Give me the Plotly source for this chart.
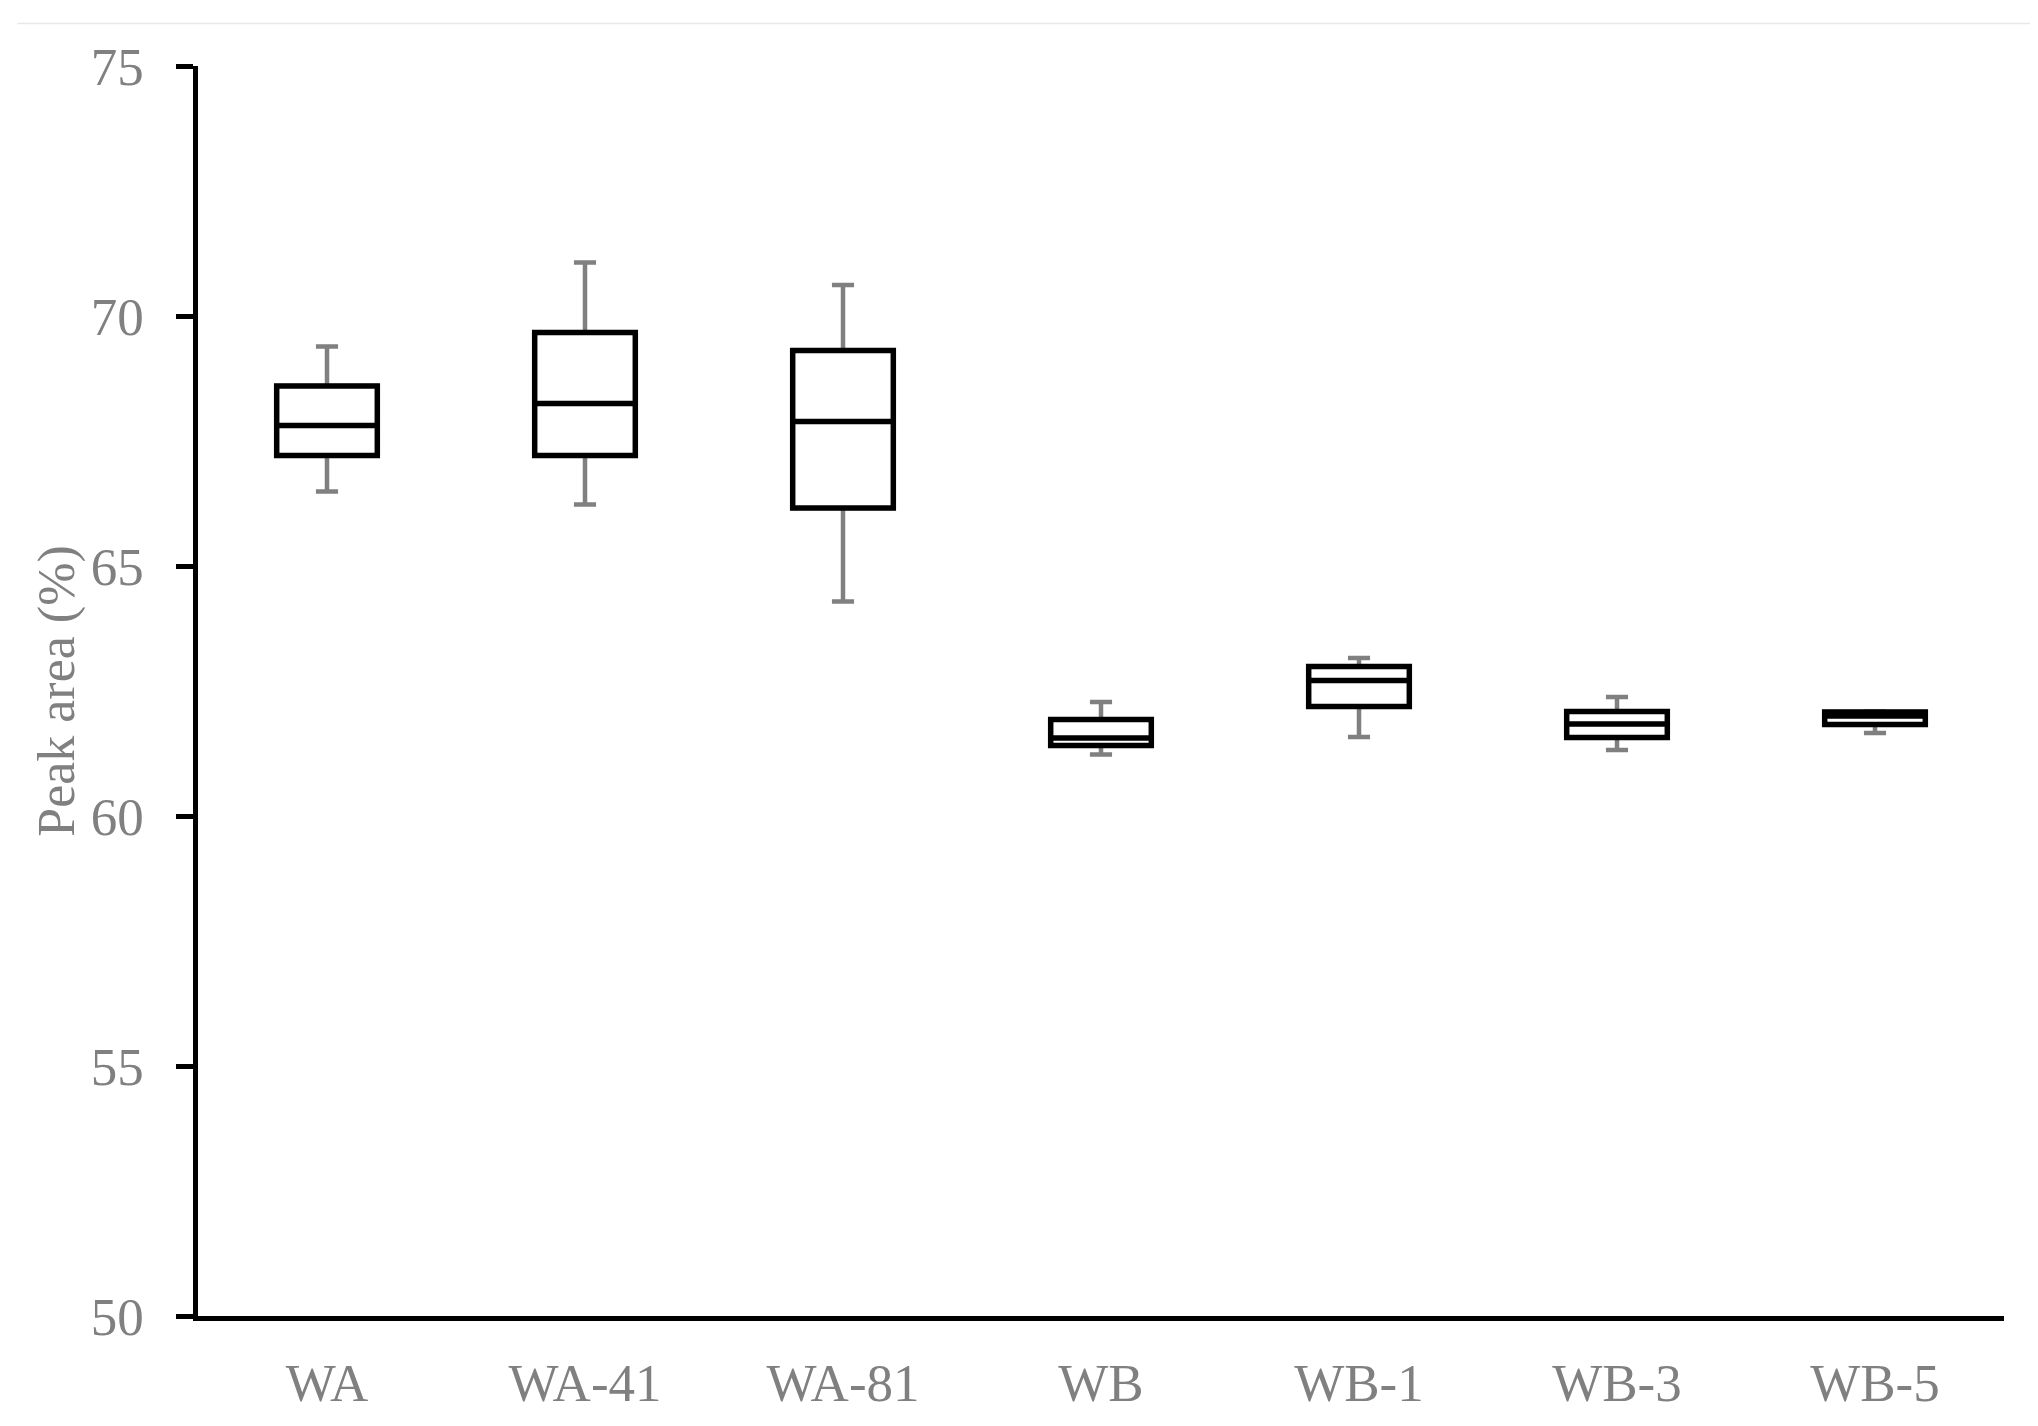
import plotly.graph_objects as go

# sample groups and box statistics (peak area, %)
categories = ["WA", "WA-41", "WA-81", "WB", "WB-1", "WB-3", "WB-5"]
lower = [66.49, 66.23, 64.29, 61.23, 61.58, 61.32, 61.66]
q1 = [67.21, 67.21, 66.16, 61.41, 62.19, 61.57, 61.83]
median = [67.81, 68.25, 67.89, 61.56, 62.71, 61.84, 62.00]
q3 = [68.60, 69.67, 69.31, 61.93, 62.99, 62.09, 62.08]
upper = [69.39, 71.07, 70.62, 62.28, 63.16, 62.38, 62.09]

GREY = "#808080"
FONT = "Liberation Serif"


def main():
    """Build the box plot"""
    fig = go.Figure()

    # grey whiskers underneath
    fig.add_trace(go.Box(x=categories, q1=q1, median=median, q3=q3,
                         lowerfence=lower, upperfence=upper,
                         line=dict(color=GREY, width=4.5), fillcolor="white",
                         whiskerwidth=0.22, boxpoints=False,
                         showlegend=False, hoverinfo="skip"))
    # black box on top, no whiskers
    fig.add_trace(go.Box(x=categories, q1=q1, median=median, q3=q3,
                         lowerfence=q1, upperfence=q3,
                         line=dict(color="black", width=5.5), fillcolor="white",
                         whiskerwidth=0, boxpoints=False,
                         showlegend=False, hoverinfo="skip"))

    fig.update_layout(
        width=2038, height=1426,
        margin=dict(l=190, r=42, t=58, b=118),
        paper_bgcolor="white", plot_bgcolor="white",
        boxmode="overlay", boxgap=0.61, boxgroupgap=0,
        font=dict(family=FONT, size=53, color=GREY),
        shapes=[dict(type="line", xref="paper", yref="paper",
                     x0=-0.1, x1=1.1, y0=1.034, y1=1.034,
                     line=dict(color="#e8e8e8", width=1.5))],
    )
    fig.update_xaxes(showline=True, linecolor="black", linewidth=4.5,
                     ticks="", showgrid=False, zeroline=False,
                     ticklabelstandoff=17, automargin=False,
                     tickfont=dict(family=FONT, size=53, color=GREY))
    fig.update_yaxes(range=[50, 75], tickvals=[50, 55, 60, 65, 70, 75],
                     showline=True, linecolor="black", linewidth=4.5,
                     ticks="outside", ticklen=17, tickwidth=4.5, tickcolor="black",
                     ticklabelstandoff=22, automargin=False,
                     showgrid=False, zeroline=False,
                     tickfont=dict(family=FONT, size=53, color=GREY),
                     title=dict(text="Peak area (%)", standoff=1,
                                font=dict(family=FONT, size=52, color=GREY)))

    fig.write_html("out.html")


if __name__ == '__main__':
    main()
